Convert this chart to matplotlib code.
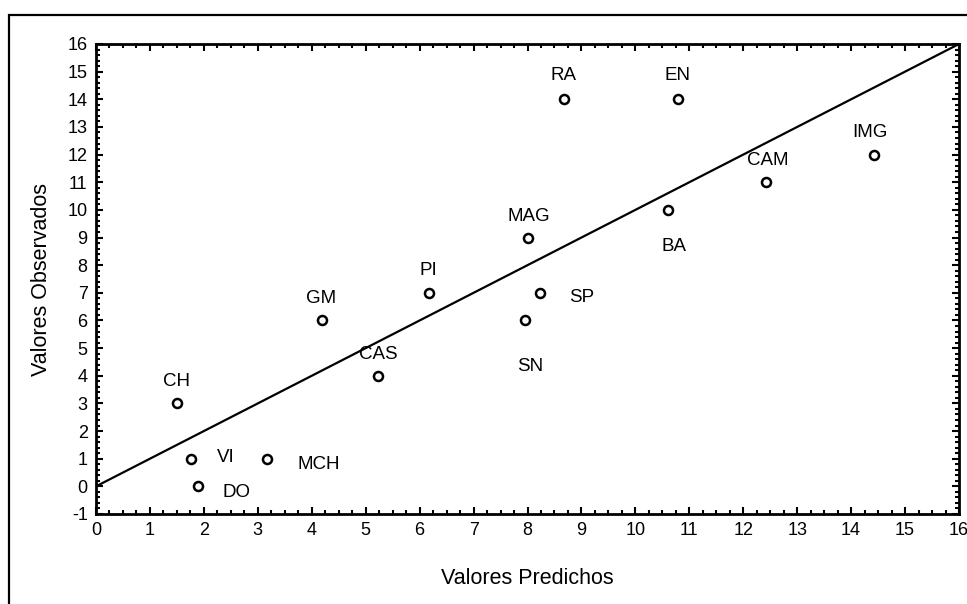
import matplotlib
matplotlib.use("Agg")
import matplotlib.pyplot as plt
from matplotlib.patches import Rectangle
from matplotlib.ticker import MultipleLocator

plt.rcParams['font.family'] = ['Liberation Sans', 'DejaVu Sans']
plt.rcParams['axes.unicode_minus'] = False

# observed vs predicted values per site
names = ['CH', 'VI', 'DO', 'MCH', 'GM', 'CAS', 'PI', 'SN', 'SP', 'MAG',
         'RA', 'EN', 'BA', 'CAM', 'IMG']
predichos = [1.50, 1.76, 1.89, 3.17, 4.19, 5.23, 6.18, 7.96, 8.24, 8.01,
             8.67, 10.79, 10.60, 12.43, 14.42]
observados = [3, 1, 0, 1, 6, 4, 7, 6, 7, 9, 14, 14, 10, 11, 12]

# label offsets in pixels (dx, dy)
offsets = {'CH': (0, 22), 'VI': (35, 1), 'DO': (39, -6), 'MCH': (52, -6),
           'GM': (-1, 22), 'CAS': (0, 21), 'PI': (-1, 22), 'SN': (5, -46),
           'SP': (41, -5), 'MAG': (1, 21), 'RA': (0, 24), 'EN': (0, 24),
           'BA': (6, -37), 'CAM': (1, 22), 'IMG': (-4, 22)}

fig = plt.figure(figsize=(9.67, 6.04), dpi=100)
W, H = 967, 604
ax = fig.add_axes([96 / W, 1 - 514 / H, (959 - 96) / W, (514 - 44) / H])

# outer frame
fig.patches.append(Rectangle((9 / W, -0.1), 1.2, 1 - 15 / H + 0.1,
                             transform=fig.transFigure, fill=False,
                             edgecolor='black', linewidth=1.6))

ax.plot([0, 16], [0, 16], color='black', linewidth=1.6)
ax.plot(predichos, observados, linestyle='none', marker='o', markersize=6.5,
        markerfacecolor='white', markeredgecolor='black', markeredgewidth=1.8)

for n, x, y in zip(names, predichos, observados):
    dx, dy = offsets[n]
    ax.annotate(n, (x, y), xytext=(dx, dy), textcoords='offset pixels',
                ha='center', va='center', fontsize=13.5)

ax.set_xlim(0, 16)
ax.set_ylim(-1, 16)
ax.xaxis.set_major_locator(MultipleLocator(1))
ax.xaxis.set_minor_locator(MultipleLocator(0.25))
ax.yaxis.set_major_locator(MultipleLocator(1))
ax.yaxis.set_minor_locator(MultipleLocator(0.2))
ax.tick_params(which='both', direction='in', top=True, right=True,
               labelsize=13, width=1.5, pad=6)
ax.tick_params(which='major', length=5)
ax.tick_params(which='minor', length=3)
for s in ax.spines.values():
    s.set_linewidth(2)

ax.set_xlabel('Valores Predichos', fontsize=15.5, labelpad=21)
ax.set_ylabel('Valores Observados', fontsize=15.5, labelpad=11)

fig.savefig('out.png', dpi=100)
